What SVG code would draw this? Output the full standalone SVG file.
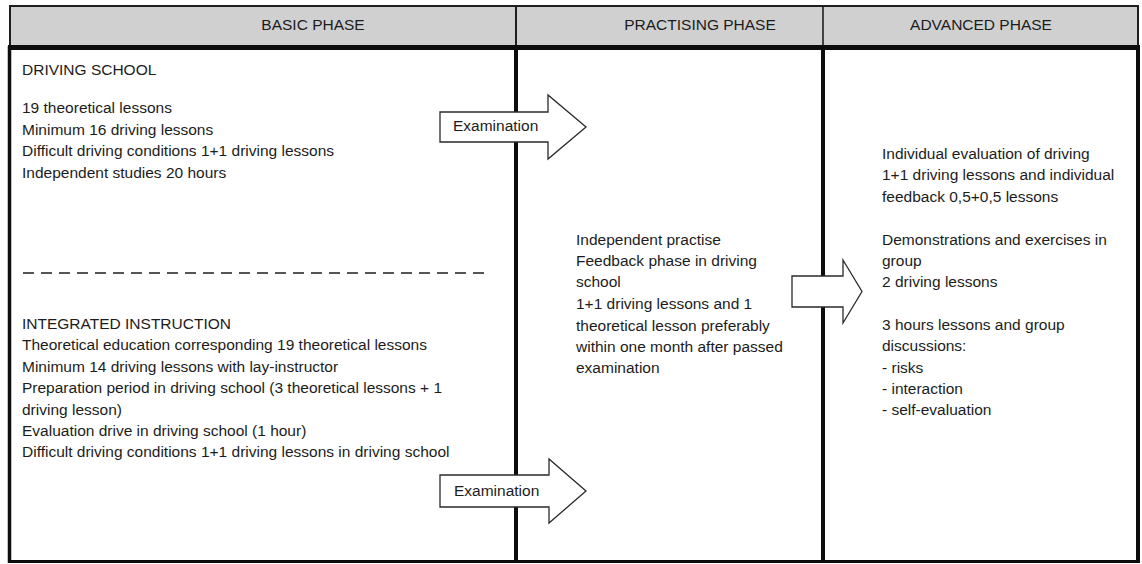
<svg xmlns="http://www.w3.org/2000/svg" width="1142" height="564" viewBox="0 0 1142 564">
<style>
  text { font-family: "Liberation Sans", Arial, sans-serif; font-size: 15.5px; fill: #1c1c1c; }
  .hdr { text-anchor: middle; }
  .arrow { fill: #ffffff; stroke: #2a2a2a; stroke-width: 1.3; stroke-linejoin: miter; }
  .thick { stroke: #0d0d0d; fill: none; }
</style>
<rect width="1142" height="564" fill="#ffffff"/>

<g id="header">
  <rect x="10" y="6" width="1128" height="40" fill="#d0d0d0" stroke="#1e1e1e" stroke-width="2"/>
  <line x1="516" y1="6" x2="516" y2="46" stroke="#1e1e1e" stroke-width="2"/>
  <line x1="823" y1="6" x2="823" y2="46" stroke="#1e1e1e" stroke-width="1.6"/>
  <text class="hdr" x="313" y="30">BASIC PHASE</text>
  <text class="hdr" x="700" y="30">PRACTISING PHASE</text>
  <text class="hdr" x="981" y="30">ADVANCED PHASE</text>
</g>

<g id="frame">
  <line class="thick" x1="8" y1="47.5" x2="1140" y2="47.5" stroke-width="5"/>
  <line class="thick" x1="9.5" y1="46" x2="9.5" y2="563" stroke-width="3.5"/>
  <line class="thick" x1="1138" y1="46" x2="1138" y2="563" stroke-width="4"/>
  <line class="thick" x1="8" y1="561.5" x2="1140" y2="561.5" stroke-width="3"/>
  <line class="thick" x1="516" y1="46" x2="516" y2="563" stroke-width="4"/>
  <line class="thick" x1="823" y1="46" x2="823" y2="563" stroke-width="4"/>
</g>

<g id="basic-phase">
  <text x="22" y="75">DRIVING SCHOOL</text>
  <text x="22" y="113">19 theoretical lessons</text>
  <text x="22" y="135">Minimum 16 driving lessons</text>
  <text x="22" y="156">Difficult driving conditions 1+1 driving lessons</text>
  <text x="22" y="178">Independent studies 20 hours</text>
  <line x1="23" y1="273" x2="488" y2="273" stroke="#555555" stroke-width="2" stroke-dasharray="11 7"/>
  <text x="22" y="329">INTEGRATED INSTRUCTION</text>
  <text x="22" y="350">Theoretical education corresponding 19 theoretical lessons</text>
  <text x="22" y="372">Minimum 14 driving lessons with lay-instructor</text>
  <text x="22" y="393">Preparation period in driving school (3 theoretical lessons + 1</text>
  <text x="22" y="415">driving lesson)</text>
  <text x="22" y="436">Evaluation drive in driving school (1 hour)</text>
  <text x="22" y="457">Difficult driving conditions 1+1 driving lessons in driving school</text>
</g>

<g id="practising-phase">
  <text x="576" y="245">Independent practise</text>
  <text x="576" y="266">Feedback phase in driving</text>
  <text x="576" y="287">school</text>
  <text x="576" y="309">1+1 driving lessons and 1</text>
  <text x="576" y="331">theoretical lesson preferably</text>
  <text x="576" y="352">within one month after passed</text>
  <text x="576" y="373">examination</text>
</g>

<g id="advanced-phase">
  <text x="882" y="159">Individual evaluation of driving</text>
  <text x="882" y="180">1+1 driving lessons and individual</text>
  <text x="882" y="202">feedback 0,5+0,5 lessons</text>
  <text x="882" y="245">Demonstrations and exercises in</text>
  <text x="882" y="266">group</text>
  <text x="882" y="287">2 driving lessons</text>
  <text x="882" y="330">3 hours lessons and group</text>
  <text x="882" y="351">discussions:</text>
  <text x="882" y="373">- risks</text>
  <text x="882" y="394">- interaction</text>
  <text x="882" y="415">- self-evaluation</text>
</g>

<g id="connectors">
  <g id="arrow-exam-1">
    <polygon class="arrow" points="440,112 548,112 548,95 586,127 548,159 548,142 440,142"/>
    <text x="453" y="131">Examination</text>
  </g>
  <g id="arrow-exam-2">
    <polygon class="arrow" points="440,475 549,475 549,459 586,491 549,523 549,507 440,507"/>
    <text x="454" y="496">Examination</text>
  </g>
  <g id="arrow-practise-advanced">
    <polygon class="arrow" points="792,276 843,276 843,260 862,291.5 843,323 843,307 792,307"/>
  </g>
</g>
</svg>
